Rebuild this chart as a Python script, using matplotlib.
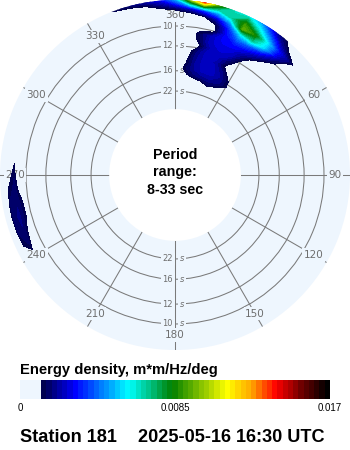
import numpy as np
import matplotlib
matplotlib.use('Agg')
import matplotlib.pyplot as plt
from matplotlib.colors import ListedColormap, LinearSegmentedColormap, Normalize
from matplotlib.cm import ScalarMappable
from matplotlib.transforms import offset_copy

# ---------------- data ----------------
station = "Station 181"
timestamp = "2025-05-16 16:30 UTC"
period_range = "8-33 sec"
energy_max = 0.017
cbar_ticks = [0, 0.0085, 0.017]
cbar_ticklabels = ["0", "0.0085", "0.017"]
period_rings = [10, 12, 16, 22]           # seconds
angle_ticks = list(range(0, 360, 30))     # compass degrees

# main (northerly) energy: directions (deg, compass) x frequencies (Hz)
main_dirs = [-30, -25, -20, -15, -10, -5, 0, 5, 10, 15, 20, 25, 30, 35, 40, 45, 50, 55]
main_freqs = [0.050, 0.055, 0.060, 0.065, 0.070, 0.075, 0.080, 0.085,
              0.090, 0.095, 0.100, 0.105, 0.110, 0.115, 0.1225]
main_energy = [
    [0, 0, 0, 0, 0, 0, 0, 0, 0, 0, 0, 0, 0, 0, 0, 0, 0, 0],
    [0, 0, 0, 0, 0, 0, 0, 0, 0.0004, 0.0008, 0.0014, 0.0009, 0, 0, 0, 0, 0, 0],
    [0, 0, 0, 0, 0, 0, 0, 0.0009, 0.0016, 0.0019, 0.0020, 0.0018, 0.0012, 0, 0, 0, 0, 0],
    [0, 0, 0, 0, 0, 0, 0, 0.0013, 0.0020, 0.0024, 0.0024, 0.0020, 0.0011, 0, 0, 0, 0, 0],
    [0, 0, 0, 0, 0, 0, 0, 0.0010, 0.0020, 0.0025, 0.0024, 0.0017, 0.0004, 0, 0, 0, 0, 0],
    [0, 0, 0, 0, 0, 0, 0, 0.0008, 0.0019, 0.0025, 0.0022, 0.0010, 0.0003, 0, 0, 0, 0, 0],
    [0, 0, 0, 0, 0, 0, 0, 0.0005, 0.0017, 0.0025, 0.0024, 0.0016, 0.0006, 0, 0, 0, 0, 0],
    [0, 0, 0, 0, 0, 0, 0, 0.0002, 0.0009, 0.0022, 0.0026, 0.0024, 0.0011, 0.0003, 0, 0, 0, 0],
    [0, 0, 0, 0, 0, 0, 0, 0.0004, 0.0013, 0.0025, 0.0028, 0.0027, 0.0019, 0.0006, 0, 0, 0, 0],
    [0, 0, 0, 0, 0, 0, 0, 0.0005, 0.0014, 0.0024, 0.0030, 0.0032, 0.0028, 0.0019, 0.0005, 0, 0, 0],
    [0, 0, 0, 0, 0, 0, 0, 0.0003, 0.0008, 0.0009, 0.0030, 0.0042, 0.0042, 0.0032, 0.0016, 0.0004, 0, 0],
    [0, 0, 0, 0, 0, 0, 0, 0.0002, 0.0006, 0.0010, 0.0032, 0.0058, 0.0070, 0.0055, 0.0028, 0.0008, 0, 0],
    [0, 0, 0, 0, 0, 0, 0.0002, 0.0004, 0.0010, 0.0022, 0.0045, 0.0095, 0.0085, 0.0058, 0.0032, 0.0017, 0.0003, 0],
    [0, 0, 0, 0, 0.0003, 0.0011, 0.0016, 0.0024, 0.0036, 0.0048, 0.0068, 0.0088, 0.0065, 0.0042, 0.0020, 0.0006, 0, 0],
    [0, 0.0008, 0.0014, 0.0018, 0.0022, 0.0030, 0.0050, 0.0100, 0.0145, 0.0092, 0.0065, 0.0060, 0.0045, 0.0022, 0.0010, 0, 0, 0],
]

# western swell patch
west_dirs = [235, 240, 245, 250, 255, 260, 265, 270, 275, 280]
west_freqs = [0.100, 0.105, 0.110, 0.115, 0.120]
west_energy = [
    [0, 0, 0, 0, 0, 0, 0, 0, 0, 0],
    [0, 0, 0, 0.0008, 0.0013, 0.0012, 0.0006, 0, 0, 0],
    [0, 0.0008, 0.0015, 0.0017, 0.0018, 0.0017, 0.0016, 0.0014, 0.0011, 0],
    [0, 0.0004, 0.0012, 0.0015, 0.0016, 0.0015, 0.0012, 0.0008, 0, 0],
    [0, 0, 0, 0, 0, 0, 0, 0, 0, 0],
]

# ---------------- styling ----------------
disc = '#EEF6FE'
grid_col = '#7A7A7A'
lab_col = '#6E6E6E'
W, H = 350, 450
R_PX = 175.0
f_min, f_max = 1 / 33.0, 0.1218
r_origin = -0.0249

anchors = [(0.0, '#000050'), (0.11, '#0000FF'), (0.30, '#00FFFF'),
           (0.453, '#008000'), (0.647, '#FFFF00'), (0.734, '#FFA500'),
           (0.82, '#FF0000'), (0.91, '#700000'), (1.0, '#000000')]
jet_part = LinearSegmentedColormap.from_list('cdipjet', anchors)
n_light, n_jet = 4, 55
colors = [disc] * n_light + [jet_part(i / (n_jet - 1)) for i in range(n_jet)]
cmap = ListedColormap(colors)
norm = Normalize(0, energy_max)
levels = np.linspace(0, energy_max, n_light + n_jet + 1)[n_light:]

fig = plt.figure(figsize=(W / 100, H / 100), dpi=100)
ax = fig.add_axes([0, (H - 2 * R_PX) / H, 1, 2 * R_PX / H], projection='polar')
ax.set_theta_zero_location('N')
ax.set_theta_direction(-1)
ax.set_rorigin(r_origin)
ax.set_rlim(f_min, f_max)
ax.set_facecolor(disc)
for name in list(ax.spines.keys()):
    ax.spines[name].set_visible(False)
    ax.spines[name].set_edgecolor('none')
ax.patch.set_edgecolor('none')
ax.set_axisbelow(True)
ax.set_thetagrids(angle_ticks, labels=[''] * len(angle_ticks))
ax.set_rgrids([1 / p for p in period_rings], labels=[''] * len(period_rings))
ax.grid(True, color=grid_col, linewidth=0.75)
ax.tick_params(axis='both', which='both', length=0, width=0, pad=0)

def rpx_to_f(rpx):
    return r_origin + rpx / R_PX * (f_max - r_origin)

f_lab = rpx_to_f(160)
for a in angle_ticks:
    txt = '360' if a == 0 else str(a)
    ax.text(np.deg2rad(a), f_lab, txt, ha='center', va='center', fontsize=7.5,
            color=lab_col, zorder=2.7,
            bbox=dict(boxstyle='square,pad=0.15', fc=disc, ec='none'))

tr_num = offset_copy(ax.transData, fig=fig, x=-2.0, y=0, units='dots')
tr_s = offset_copy(ax.transData, fig=fig, x=5.0, y=0, units='dots')
for p in period_rings:
    for th in (0.0, np.pi):
        ax.text(th, 1 / p, str(p), transform=tr_num, ha='right', va='center',
                fontsize=6, color=lab_col, zorder=2.5,
                bbox=dict(boxstyle='square,pad=0.2', fc=disc, ec='none'))
        ax.text(th, 1 / p, 's', transform=tr_s, ha='left', va='center',
                fontsize=6, color=lab_col, zorder=2.5, style='italic',
                bbox=dict(boxstyle='square,pad=0.2', fc=disc, ec='none'))

# spectra
for dirs, freqs, energy in ((main_dirs, main_freqs, main_energy),
                            (west_dirs, west_freqs, west_energy)):
    TH, FR = np.meshgrid(np.deg2rad(dirs), freqs)
    ax.contourf(TH, FR, np.array(energy), levels=levels, cmap=cmap, norm=norm,
                zorder=4, antialiased=False)

ax.set_rlim(f_min, f_max)

# center text
font = 'Liberation Sans'
for txt, y in (('Period', 155), ('range:', 172), (period_range, 190)):
    fig.text(0.5, 1 - y / H, txt, ha='center', va='center', fontsize=10.3,
             fontweight='bold', family=font)

# colorbar
fig.text(20 / W, 1 - 370 / H, 'Energy density, m*m/Hz/deg', ha='left', va='center',
         fontsize=10.6, fontweight='bold', family=font)
cax = fig.add_axes([20 / W, 1 - 399 / H, 310 / W, 19 / H])
cb = fig.colorbar(ScalarMappable(norm=norm, cmap=cmap), cax=cax,
                  orientation='horizontal', ticks=cbar_ticks)
cb.outline.set_visible(False)
cb.ax.set_xticklabels(cbar_ticklabels)
cb.ax.tick_params(length=0, pad=3, labelsize=7)
for t in cb.ax.get_xticklabels():
    t.set_family(font)

fig.text(20 / W, 1 - 438 / H, station, ha='left', va='center', fontsize=13.1,
         fontweight='bold', family=font)
fig.text(138 / W, 1 - 438 / H, timestamp, ha='left', va='center', fontsize=13.1,
         fontweight='bold', family=font)

fig.savefig('out.png', dpi=100, facecolor='white')
